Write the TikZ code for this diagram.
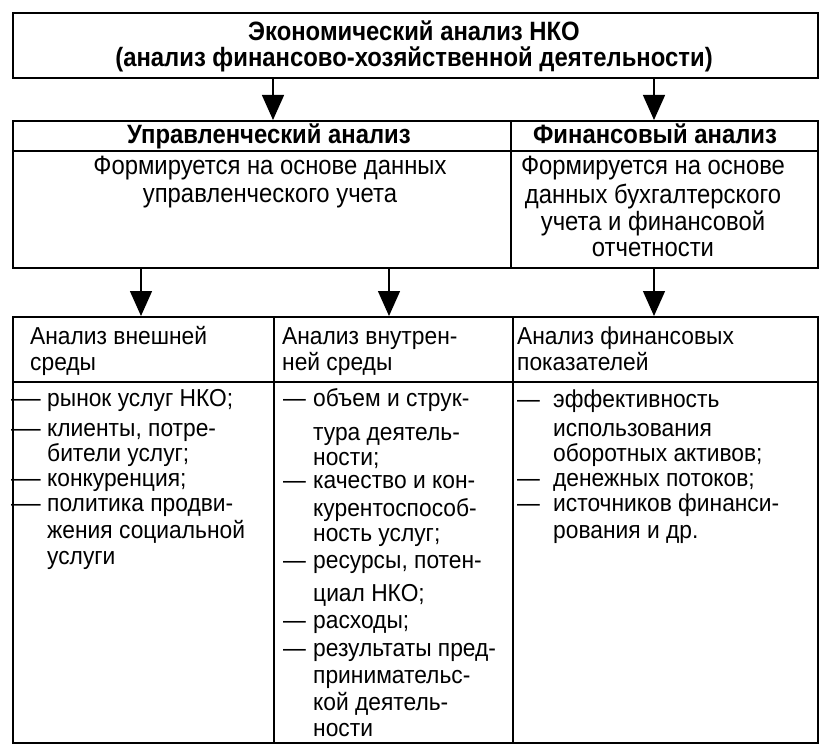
\documentclass[tikz,border=0pt]{standalone}
\usepackage{fontspec}
\setmainfont{Liberation Sans}
\newfontfamily\tallfont[FakeStretch=0.9]{Liberation Sans}
\newfontfamily\tallfontb[FakeStretch=0.9]{Liberation Sans Bold}
\newfontfamily\lowfont[FakeStretch=0.93]{Liberation Sans}
\newcommand{\longdash}{\scalebox{1.3}[1]{—}}
\usetikzlibrary{arrows.meta}
\begin{document}
\begin{tikzpicture}[x=1pt,y=-1pt,
  cell/.style={draw, line width=1.6pt, inner sep=0pt, anchor=north west},
  arr/.style={line width=1.4pt, -{Triangle[width=22pt,length=25pt]}},
  ttl/.style={inner sep=0pt, font=\tallfontb\fontsize{26.5}{30}\selectfont, text height=18pt, text depth=0pt},
  hdr/.style={inner sep=0pt, font=\tallfontb\fontsize{26.5}{30}\selectfont, text height=18pt, text depth=0pt},
  mbody/.style={inner sep=0pt, font=\tallfont\fontsize{26.5}{30}\selectfont, text height=18pt, text depth=0pt},
  bt/.style={inner sep=0pt, anchor=west, font=\lowfont\fontsize{24.5}{28}\selectfont, text height=17pt, text depth=0pt},
]
\useasboundingbox (0,0) rectangle (834,754);
\fill[white] (0,0) rectangle (834,754);

% cells
\node[cell, minimum width=805pt, minimum height=65pt] (top) at (12,12) {};
\node[cell, minimum width=498pt, minimum height=30pt] (mLh) at (12,120) {};
\node[cell, minimum width=307pt, minimum height=30pt] (mRh) at (510,120) {};
\node[cell, minimum width=498pt, minimum height=117pt] (mLb) at (12,150) {};
\node[cell, minimum width=307pt, minimum height=117pt] (mRb) at (510,150) {};
\node[cell, minimum width=261pt, minimum height=65pt] (bLh) at (12,316) {};
\node[cell, minimum width=239pt, minimum height=65pt] (bMh) at (273,316) {};
\node[cell, minimum width=305pt, minimum height=65pt] (bRh) at (512,316) {};
\node[cell, minimum width=261pt, minimum height=361pt] (bLb) at (12,381) {};
\node[cell, minimum width=239pt, minimum height=361pt] (bMb) at (273,381) {};
\node[cell, minimum width=305pt, minimum height=361pt] (bRb) at (512,381) {};

% arrows
\coordinate (a1) at (273,120);
\coordinate (a2) at (654,120);
\coordinate (a3) at (141,316);
\coordinate (a4) at (389,316);
\coordinate (a5) at (654,316);
\draw[arr] (top.south -| a1) -- (a1);
\draw[arr] (top.south -| a2) -- (a2);
\draw[arr] (mLb.south -| a3) -- (a3);
\draw[arr] (mLb.south -| a4) -- (a4);
\draw[arr] (mRb.south -| a5) -- (a5);

% title
\node[ttl] (t1) at (414,32) {Экономический анализ НКО};
\node[ttl] (t2) at (414,58) {(анализ финансово-хозяйственной деятельности)};

% middle
\node[hdr] (h1) at (269,135) {Управленческий анализ};
\node[hdr] (h2) at (655,135) {Финансовый анализ};
\node[mbody] (m1) at (270,166) {Формируется на основе данных};
\node[mbody] (m2) at (270,193) {управленческого учета};
\node[mbody] (m3) at (653,166) {Формируется на основе};
\node[mbody] (m4) at (653,194) {данных бухгалтерского};
\node[mbody] (m5) at (653,221) {учета и финансовой};
\node[mbody] (m6) at (653,247) {отчетности};

% column 1
\node[bt] (c1h1) at (30,336) {Анализ внешней};
\node[bt] (c1h2) at (30,362) {среды};
\node[bt] (c1d1) at (11,398) {\longdash};
\node[bt] (c1l1) at (47,398) {рынок услуг НКО;};
\node[bt] (c1d2) at (11,428) {\longdash};
\node[bt] (c1l2) at (47,428) {клиенты, потре-};
\node[bt] (c1l3) at (47,453) {бители услуг;};
\node[bt] (c1d3) at (11,478) {\longdash};
\node[bt] (c1l4) at (47,478) {конкуренция;};
\node[bt] (c1d4) at (11,503) {\longdash};
\node[bt] (c1l5) at (47,503) {политика продви-};
\node[bt] (c1l6) at (47,530) {жения социальной};
\node[bt] (c1l7) at (47,556) {услуги};

% column 2
\node[bt] (c2h1) at (282,336) {Анализ внутрен-};
\node[bt] (c2h2) at (282,362) {ней среды};
\node[bt] (c2d1) at (283,398) {—};
\node[bt] (c2l1) at (313,398) {объем и струк-};
\node[bt] (c2l2) at (313,432) {тура деятель-};
\node[bt] (c2l3) at (313,457) {ности;};
\node[bt] (c2d2) at (283,480) {—};
\node[bt] (c2l4) at (313,480) {качество и кон-};
\node[bt] (c2l5) at (313,508) {курентоспособ-};
\node[bt] (c2l6) at (313,533) {ность услуг;};
\node[bt] (c2d3) at (283,560) {—};
\node[bt] (c2l7) at (313,560) {ресурсы, потен-};
\node[bt] (c2l8) at (313,593) {циал НКО;};
\node[bt] (c2d4) at (283,620) {—};
\node[bt] (c2l9) at (313,620) {расходы;};
\node[bt] (c2d5) at (283,648) {—};
\node[bt] (c2l10) at (313,648) {результаты пред-};
\node[bt] (c2l11) at (313,675) {принимательс-};
\node[bt] (c2l12) at (313,702) {кой деятель-};
\node[bt] (c2l13) at (313,728) {ности};

% column 3
\node[bt] (c3h1) at (517,336) {Анализ финансовых};
\node[bt] (c3h2) at (517,362) {показателей};
\node[bt] (c3d1) at (517,399) {—};
\node[bt] (c3l1) at (553,399) {эффективность};
\node[bt] (c3l2) at (553,428) {использования};
\node[bt] (c3l3) at (553,453) {оборотных активов;};
\node[bt] (c3d2) at (517,478) {—};
\node[bt] (c3l4) at (553,478) {денежных потоков;};
\node[bt] (c3d3) at (517,503) {—};
\node[bt] (c3l5) at (553,503) {источников финанси-};
\node[bt] (c3l6) at (553,530) {рования и др.};
\end{tikzpicture}
\end{document}
